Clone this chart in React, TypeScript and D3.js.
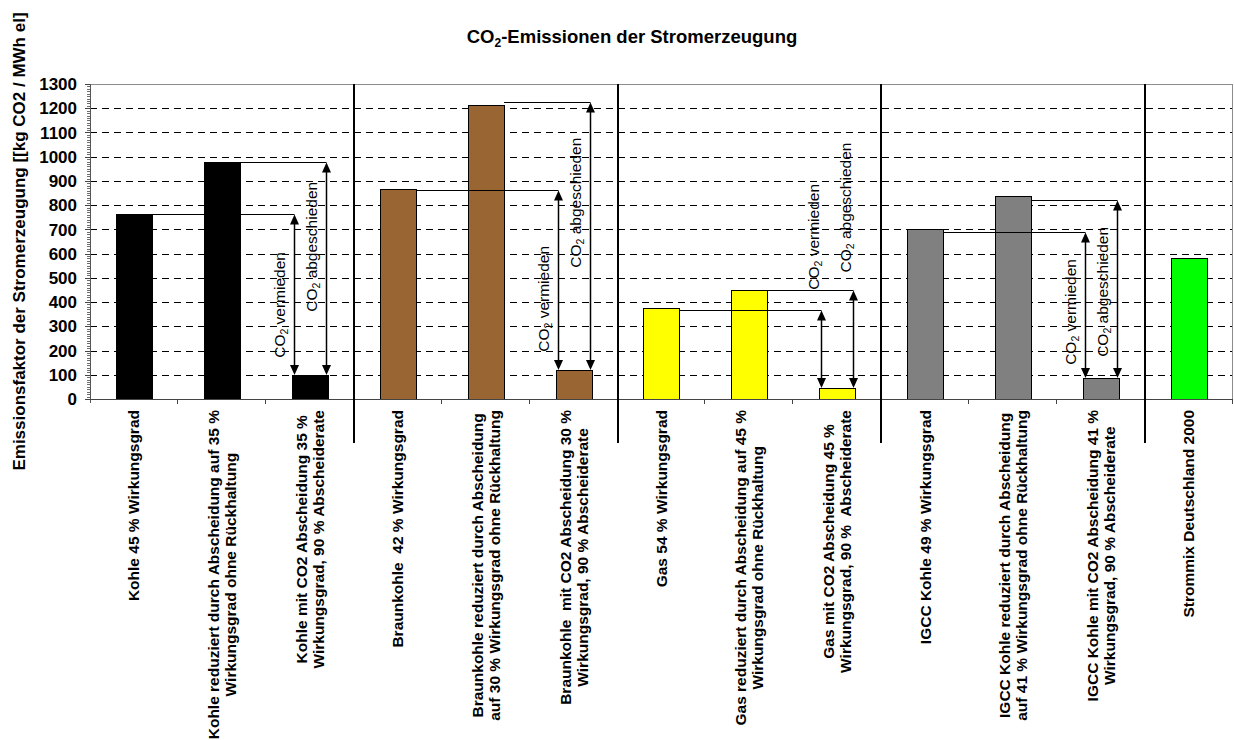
import {useEffect, useRef} from 'react';
import * as d3 from 'd3';

// category labels, one entry per bar, lines split by '\n'
const categories = [
  'Kohle 45 % Wirkungsgrad',
  'Kohle reduziert durch Abscheidung auf 35 %\nWirkungsgrad ohne Rückhaltung',
  'Kohle mit CO2 Abscheidung 35 %\nWirkungsgrad, 90 % Abscheiderate',
  'Braunkohle  42 % Wirkungsgrad',
  'Braunkohle reduziert durch Abscheidung\nauf 30 % Wirkungsgrad ohne Rückhaltung',
  'Braunkohle  mit CO2 Abscheidung 30 %\nWirkungsgrad, 90 % Abscheiderate',
  'Gas 54 % Wirkungsgrad',
  'Gas reduziert durch Abscheidung auf 45 %\nWirkungsgrad ohne Rückhaltung',
  'Gas mit CO2 Abscheidung 45 %\nWirkungsgrad, 90 %  Abscheiderate',
  'IGCC Kohle 49 % Wirkungsgrad',
  'IGCC Kohle reduziert durch Abscheidung\nauf 41 % Wirkungsgrad ohne Rückhaltung',
  'IGCC Kohle mit CO2 Abscheidung 41 %\nWirkungsgrad, 90 % Abscheiderate',
  'Strommix Deutschland 2000',
];

// kg CO2 / MWh el
const emissions = [765, 980, 100, 868, 1214, 121, 375, 451, 44, 700, 838, 86, 580];

// fuel group of each bar
const fuelGroup = ['kohle', 'kohle', 'kohle', 'braunkohle', 'braunkohle', 'braunkohle', 'gas', 'gas', 'gas', 'igcc', 'igcc', 'igcc', 'mix'];

// annotation levels per fuel group (kohle, braunkohle, gas, igcc)
const avoidedLevel = [762, 864, 366, 691];
const capturedLevel = [978, 1227, 451, 820];
// value at which the rotated annotation text begins
const avoidedLabelFrom = [170, 195, 451, 141];
const capturedLabelFrom = [360, 542, 522, 174];

const yTicks = d3.range(0, 1301, 100);
const yMinorTicks = d3.range(0, 1301, 10);

export default function App() {
  const svgRef = useRef<SVGSVGElement>(null);

  useEffect(() => {
    if (!svgRef.current) return;
    const width = 1234;
    const height = 740;
    const font = '"Liberation Sans", Arial, sans-serif';

    const svg = d3.select(svgRef.current);
    svg.selectAll('*').remove();
    svg.attr('width', width).attr('height', height).attr('viewBox', [0, 0, width, height]);

    const colors: Record<string, string> = {
      kohle: '#000000',
      braunkohle: '#996633',
      gas: '#ffff00',
      igcc: '#808080',
      mix: '#00ff00',
    };

    const left = 90;
    const right = 1233;
    const top = 84;
    const bottom = 399;

    const y = d3.scaleLinear().domain([0, 1300]).range([bottom, top]);
    const slot = d3.scaleBand<number>().domain(d3.range(categories.length)).range([left, right]);
    const x = d3
      .scaleBand<number>()
      .domain(d3.range(categories.length))
      .range([left, right])
      .paddingInner(0.59)
      .paddingOuter(0.295);
    const bw = x.bandwidth();

    svg.append('rect').attr('width', width).attr('height', height).attr('fill', '#ffffff');

    // text with a subscript 2 after "CO"
    const co2Text = (sel: d3.Selection<SVGTextElement, unknown, null, undefined>, rest: string, subSize: number, shift: number) => {
      sel.append('tspan').text('CO');
      sel.append('tspan').attr('dy', shift).attr('font-size', subSize).text('2');
      sel.append('tspan').attr('dy', -shift).text(rest);
    };

    // title
    const title = svg
      .append('text')
      .attr('x', 632)
      .attr('y', 43)
      .attr('text-anchor', 'middle')
      .attr('font-family', font)
      .attr('font-size', '18.5px')
      .attr('font-weight', 'bold')
      .attr('fill', '#000');
    co2Text(title as any, '-Emissionen der Stromerzeugung', 12, 4);

    // dashed grid
    svg
      .append('g')
      .selectAll('line')
      .data(yTicks.filter((t) => t > 0 && t < 1300))
      .join('line')
      .attr('x1', left)
      .attr('x2', right)
      .attr('y1', (d) => Math.round(y(d)) + 0.5)
      .attr('y2', (d) => Math.round(y(d)) + 0.5)
      .attr('stroke', '#000')
      .attr('stroke-dasharray', '7,5');

    // plot frame
    svg
      .append('rect')
      .attr('x', left + 0.5)
      .attr('y', top + 0.5)
      .attr('width', right - left - 1)
      .attr('height', bottom - top)
      .attr('fill', 'none')
      .attr('stroke', '#8c8c8c');

    // y axis ticks
    svg
      .append('g')
      .selectAll('line')
      .data(yMinorTicks)
      .join('line')
      .attr('x1', left - 3)
      .attr('x2', left)
      .attr('y1', (d) => Math.round(y(d)) + 0.5)
      .attr('y2', (d) => Math.round(y(d)) + 0.5)
      .attr('stroke', '#6e6e6e');

    svg
      .append('g')
      .selectAll('line')
      .data(yTicks)
      .join('line')
      .attr('x1', left - 5)
      .attr('x2', left)
      .attr('y1', (d) => Math.round(y(d)) + 0.5)
      .attr('y2', (d) => Math.round(y(d)) + 0.5)
      .attr('stroke', '#444');

    svg
      .append('line')
      .attr('x1', left + 0.5)
      .attr('x2', left + 0.5)
      .attr('y1', top)
      .attr('y2', bottom + 4)
      .attr('stroke', '#555');

    svg
      .append('g')
      .selectAll('text')
      .data(yTicks)
      .join('text')
      .attr('x', 77)
      .attr('y', (d) => y(d))
      .attr('dy', '0.36em')
      .attr('text-anchor', 'end')
      .attr('font-family', font)
      .attr('font-size', '17px')
      .attr('font-weight', 'bold')
      .attr('fill', '#000')
      .text((d) => d);

    svg
      .append('text')
      .attr('transform', `translate(25,${(top + bottom) / 2}) rotate(-90)`)
      .attr('text-anchor', 'middle')
      .attr('font-family', font)
      .attr('font-size', '17px')
      .attr('font-weight', 'bold')
      .attr('fill', '#000')
      .text('Emissionsfaktor der Stromerzeugung [[kg CO2 / MWh el]');

    // bars
    svg
      .append('g')
      .selectAll('rect')
      .data(emissions)
      .join('rect')
      .attr('x', (d, i) => Math.round(x(i)!) + 0.5)
      .attr('y', (d) => Math.round(y(d)) + 0.5)
      .attr('width', Math.round(bw))
      .attr('height', (d) => Math.round(y(0)) - Math.round(y(d)))
      .attr('fill', (d, i) => colors[fuelGroup[i]])
      .attr('stroke', '#000');

    // x axis
    svg
      .append('line')
      .attr('x1', left)
      .attr('x2', right)
      .attr('y1', bottom + 0.5)
      .attr('y2', bottom + 0.5)
      .attr('stroke', '#444');

    const boundaries = d3.range(categories.length + 1);
    svg
      .append('g')
      .selectAll('line')
      .data(boundaries.filter((b) => b % 3 !== 0 || b === categories.length))
      .join('line')
      .attr('x1', (b) => Math.round(left + b * slot.step()) - 0.5)
      .attr('x2', (b) => Math.round(left + b * slot.step()) - 0.5)
      .attr('y1', bottom)
      .attr('y2', bottom + 5)
      .attr('stroke', '#444');

    // group separators
    svg
      .append('g')
      .selectAll('line')
      .data([3, 6, 9, 12])
      .join('line')
      .attr('x1', (b) => Math.round(left + b * slot.step()))
      .attr('x2', (b) => Math.round(left + b * slot.step()))
      .attr('y1', top)
      .attr('y2', 443)
      .attr('stroke', '#000')
      .attr('stroke-width', 2);

    // category labels
    const lineHeight = 17;
    const labels = svg.append('g');
    categories.forEach((label, i) => {
      const lines = label.split('\n');
      const cx = slot(i)! + slot.bandwidth() / 2;
      const g = labels.append('g');
      const texts = lines.map((ln) =>
        g
          .append('text')
          .attr('font-family', font)
          .attr('font-size', '15.5px')
          .attr('font-weight', 'bold')
          .attr('fill', '#000')
          .attr('text-anchor', 'middle')
          .attr('dy', '0.35em')
          .style('white-space', 'pre')
          .text(ln),
      );
      const maxLen = d3.max(texts, (t) => (t.node() as SVGTextElement).getComputedTextLength()) || 0;
      texts.forEach((t, j) => {
        const lx = cx + (j - (lines.length - 1) / 2) * lineHeight;
        t.attr('transform', `translate(${lx},${410 + maxLen / 2}) rotate(-90)`);
      });
    });

    // CO2 annotations
    const ann = svg.append('g');
    const arrowHead = (ax: number, ay: number, dir: number) =>
      `M${ax},${ay}L${ax - 4.5},${ay + dir * 10}L${ax + 4.5},${ay + dir * 10}Z`;

    const co2Label = (ax: number, from: number, level: number, rest: string) => {
      // baseline position left of (or above) the arrow
      const bx = from >= level ? ax - 3 : ax - 10;
      const t = ann
        .append('text')
        .attr('transform', `translate(${bx},${y(from)}) rotate(-90)`)
        .attr('font-family', font)
        .attr('font-size', '15.5px')
        .attr('fill', '#000');
      co2Text(t as any, rest, 10.5, 3.5);
    };

    avoidedLevel.forEach((lvl, g) => {
      const b1 = g * 3;
      const b2 = g * 3 + 1;
      const b3 = g * 3 + 2;
      const x3 = Math.round(x(b3)!);
      const xAv = x3 + 2.5;
      const xCap = x3 + Math.round(bw) - 1.5;
      const yBot = Math.round(y(emissions[b3]));

      const pairs: [number, number, number, number, string][] = [
        [b1, lvl, xAv, avoidedLabelFrom[g], ' vermieden'],
        [b2, capturedLevel[g], xCap, capturedLabelFrom[g], ' abgeschieden'],
      ];
      pairs.forEach(([bar, level, ax, from, rest]) => {
        const yTop = Math.round(y(level)) + 0.5;
        ann
          .append('line')
          .attr('x1', Math.round(x(bar)! + bw))
          .attr('x2', ax)
          .attr('y1', yTop)
          .attr('y2', yTop)
          .attr('stroke', '#000');
        ann
          .append('line')
          .attr('x1', ax)
          .attr('x2', ax)
          .attr('y1', yTop + 8)
          .attr('y2', yBot - 8)
          .attr('stroke', '#000')
          .attr('stroke-width', 1.5);
        ann.append('path').attr('d', arrowHead(ax, yTop, 1)).attr('fill', '#000');
        ann.append('path').attr('d', arrowHead(ax, yBot, -1)).attr('fill', '#000');
        co2Label(ax, from, level, rest);
      });
    });
  }, []);

  return (
    <div>
      <svg ref={svgRef} style={{position: 'absolute', left: 0, top: 0, display: 'block'}} />
    </div>
  );
}
